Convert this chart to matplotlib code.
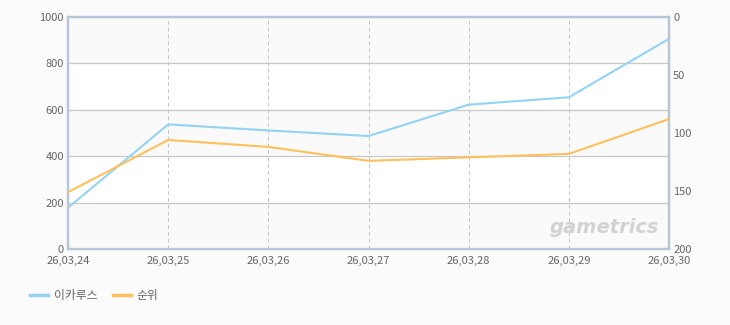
import numpy as np
import matplotlib.pyplot as plt
from matplotlib.lines import Line2D

plt.rcParams['font.family'] = ['Noto Sans CJK KR', 'DejaVu Sans']

#------------data--------------------
dates  = ['26,03,24', '26,03,25', '26,03,26', '26,03,27', '26,03,28', '26,03,29', '26,03,30']
icarus = [178, 537, 511, 487, 622, 654, 906]      # left axis
rank   = [151, 106, 112, 124, 121, 118, 88]       # right axis (inverted)

c_blue   = '#94d3f2'
c_orange = '#ffc05c'
c_text   = '#666666'
c_frame  = '#b4c6d8'

#------------figure--------------------
fig = plt.figure(figsize=(7.3, 3.25), dpi=100, facecolor='#fbfbfb')
ax = fig.add_axes([68/730, 1-249/325, 601/730, 232/325])
ax.set_facecolor('white')

x = np.arange(len(dates))
ax.set_xlim(0, len(dates)-1)
ax.set_ylim(0, 1000)

# alternating bands
for i, y0 in enumerate(range(0, 1000, 200)):
    if i % 2 == 0:
        ax.axhspan(y0, y0+200, color='#fafafa', zorder=0)
for y in [200, 400, 600, 800]:
    ax.axhline(y, color='#c8c8c8', lw=0.9, zorder=1)
for xi in x[1:-1]:
    ax.axvline(xi, color='#c4c4c4', lw=0.7, ls=(0, (4, 3)), zorder=1)

ax.plot(x, icarus, color=c_blue, lw=1.5, zorder=3)

ax2 = ax.twinx()
ax2.set_ylim(200, 0)
ax2.plot(x, rank, color=c_orange, lw=1.5, zorder=3)

for a in (ax, ax2):
    for s in a.spines.values():
        s.set_color(c_frame)
        s.set_linewidth(1.6)
    a.tick_params(length=0, labelsize=8, labelcolor=c_text)

ax.set_yticks([0, 200, 400, 600, 800, 1000])
ax.tick_params(axis='y', pad=3)
ax2.set_yticks([0, 50, 100, 150, 200])
ax2.tick_params(axis='y', pad=3)
ax.set_xticks(x)
ax.set_xticklabels(dates)
ax.tick_params(axis='x', pad=5)

# watermark
ax.text(0.984, 0.05, 'gametrics', transform=ax.transAxes, ha='right', va='bottom',
        fontsize=14, fontstyle='italic', fontweight='bold', color='#d2d2d2',
        family=['DejaVu Sans'], zorder=2)

# legend
handles = [Line2D([], [], color=c_blue, lw=2.5), Line2D([], [], color=c_orange, lw=2.5)]
fig.legend(handles, ['이카루스', '순위'], loc='lower left', bbox_to_anchor=(19/730, 12/325),
           ncol=2, frameon=False, fontsize=8.5, labelcolor=c_text,
           handlelength=1.55, handletextpad=0.5, columnspacing=1.3)

plt.savefig('out.png', dpi=100, facecolor=fig.get_facecolor())
